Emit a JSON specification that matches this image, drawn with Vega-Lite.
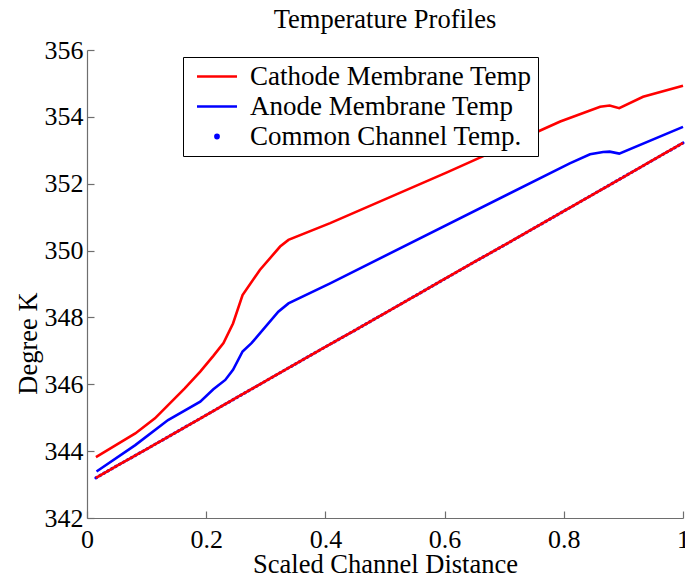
{
  "$schema": "https://vega.github.io/schema/vega-lite/v6.json",
  "width": 596,
  "height": 468,
  "autosize": {"type": "none"},
  "padding": {"left": 87, "top": 50, "right": 2, "bottom": 59},
  "background": "white",
  "title": {
    "text": "Temperature Profiles",
    "font": "Liberation Serif",
    "fontSize": 26.5,
    "fontWeight": "normal",
    "color": "black",
    "anchor": "middle",
    "offset": 4
  },
  "config": {
    "view": {"stroke": null},
    "axis": {
      "grid": false,
      "domainColor": "#6e6e6e",
      "domainWidth": 1.2,
      "tickColor": "#6e6e6e",
      "tickWidth": 1.2,
      "tickSize": -7,
      "labelFlush": false,
      "labelOverlap": false,
      "labelFont": "Liberation Serif",
      "labelFontSize": 26,
      "labelColor": "black",
      "titleFont": "Liberation Serif",
      "titleFontSize": 26.5,
      "titleFontWeight": "normal",
      "titleColor": "black"
    }
  },
  "data": {
    "values": [
      {"series": "Cathode Membrane Temp", "dist": 0.015, "temp": 343.82},
      {"series": "Cathode Membrane Temp", "dist": 0.081, "temp": 344.53},
      {"series": "Cathode Membrane Temp", "dist": 0.114, "temp": 344.98},
      {"series": "Cathode Membrane Temp", "dist": 0.164, "temp": 345.88},
      {"series": "Cathode Membrane Temp", "dist": 0.19, "temp": 346.38},
      {"series": "Cathode Membrane Temp", "dist": 0.212, "temp": 346.85},
      {"series": "Cathode Membrane Temp", "dist": 0.229, "temp": 347.23},
      {"series": "Cathode Membrane Temp", "dist": 0.245, "temp": 347.82},
      {"series": "Cathode Membrane Temp", "dist": 0.261, "temp": 348.67},
      {"series": "Cathode Membrane Temp", "dist": 0.29, "temp": 349.42},
      {"series": "Cathode Membrane Temp", "dist": 0.324, "temp": 350.12},
      {"series": "Cathode Membrane Temp", "dist": 0.338, "temp": 350.32},
      {"series": "Cathode Membrane Temp", "dist": 0.408, "temp": 350.82},
      {"series": "Cathode Membrane Temp", "dist": 0.604, "temp": 352.34},
      {"series": "Cathode Membrane Temp", "dist": 0.794, "temp": 353.86},
      {"series": "Cathode Membrane Temp", "dist": 0.861, "temp": 354.3},
      {"series": "Cathode Membrane Temp", "dist": 0.877, "temp": 354.34},
      {"series": "Cathode Membrane Temp", "dist": 0.893, "temp": 354.26},
      {"series": "Cathode Membrane Temp", "dist": 0.933, "temp": 354.6},
      {"series": "Cathode Membrane Temp", "dist": 1.0, "temp": 354.93},

      {"series": "Anode Membrane Temp", "dist": 0.016, "temp": 343.39},
      {"series": "Anode Membrane Temp", "dist": 0.081, "temp": 344.18},
      {"series": "Anode Membrane Temp", "dist": 0.136, "temp": 344.93},
      {"series": "Anode Membrane Temp", "dist": 0.19, "temp": 345.48},
      {"series": "Anode Membrane Temp", "dist": 0.212, "temp": 345.85},
      {"series": "Anode Membrane Temp", "dist": 0.232, "temp": 346.13},
      {"series": "Anode Membrane Temp", "dist": 0.245, "temp": 346.43},
      {"series": "Anode Membrane Temp", "dist": 0.261, "temp": 346.98},
      {"series": "Anode Membrane Temp", "dist": 0.276, "temp": 347.23},
      {"series": "Anode Membrane Temp", "dist": 0.321, "temp": 348.17},
      {"series": "Anode Membrane Temp", "dist": 0.338, "temp": 348.42},
      {"series": "Anode Membrane Temp", "dist": 0.408, "temp": 349.02},
      {"series": "Anode Membrane Temp", "dist": 0.81, "temp": 352.61},
      {"series": "Anode Membrane Temp", "dist": 0.844, "temp": 352.88},
      {"series": "Anode Membrane Temp", "dist": 0.866, "temp": 352.95},
      {"series": "Anode Membrane Temp", "dist": 0.877, "temp": 352.96},
      {"series": "Anode Membrane Temp", "dist": 0.893, "temp": 352.9},
      {"series": "Anode Membrane Temp", "dist": 1.0, "temp": 353.7},

      {"series": "Common Channel Temp.", "dist": 0.015, "temp": 343.2},
      {"series": "Common Channel Temp.", "dist": 0.05, "temp": 343.56},
      {"series": "Common Channel Temp.", "dist": 0.1, "temp": 344.06},
      {"series": "Common Channel Temp.", "dist": 0.15, "temp": 344.57},
      {"series": "Common Channel Temp.", "dist": 0.2, "temp": 345.08},
      {"series": "Common Channel Temp.", "dist": 0.25, "temp": 345.59},
      {"series": "Common Channel Temp.", "dist": 0.3, "temp": 346.1},
      {"series": "Common Channel Temp.", "dist": 0.35, "temp": 346.61},
      {"series": "Common Channel Temp.", "dist": 0.4, "temp": 347.12},
      {"series": "Common Channel Temp.", "dist": 0.45, "temp": 347.62},
      {"series": "Common Channel Temp.", "dist": 0.5, "temp": 348.13},
      {"series": "Common Channel Temp.", "dist": 0.55, "temp": 348.64},
      {"series": "Common Channel Temp.", "dist": 0.6, "temp": 349.15},
      {"series": "Common Channel Temp.", "dist": 0.65, "temp": 349.66},
      {"series": "Common Channel Temp.", "dist": 0.7, "temp": 350.16},
      {"series": "Common Channel Temp.", "dist": 0.75, "temp": 350.67},
      {"series": "Common Channel Temp.", "dist": 0.8, "temp": 351.18},
      {"series": "Common Channel Temp.", "dist": 0.85, "temp": 351.69},
      {"series": "Common Channel Temp.", "dist": 0.9, "temp": 352.2},
      {"series": "Common Channel Temp.", "dist": 0.95, "temp": 352.71},
      {"series": "Common Channel Temp.", "dist": 1.0, "temp": 353.22}
    ]
  },
  "encoding": {
    "x": {
      "field": "dist",
      "type": "quantitative",
      "scale": {"domain": [0, 1], "nice": false, "zero": false},
      "axis": {
        "title": "Scaled Channel Distance",
        "values": [0, 0.2, 0.4, 0.6, 0.8, 1],
        "labelExpr": "'' + datum.value",
        "labelPadding": 15,
        "titleY": 46,
        "titleBaseline": "middle"
      }
    },
    "y": {
      "field": "temp",
      "type": "quantitative",
      "scale": {"domain": [342, 356], "nice": false, "zero": false},
      "axis": {
        "title": "Degree K",
        "values": [342, 344, 346, 348, 350, 352, 354, 356],
        "labelPadding": 11,
        "titleX": -59,
        "titleY": 293,
        "titleBaseline": "middle",
        "titleAnchor": "middle"
      }
    }
  },
  "layer": [
    {
      "transform": [{"filter": "datum.series === 'Common Channel Temp.'"}],
      "mark": {"type": "line", "strokeWidth": 3, "strokeDash": [1, 3.5], "strokeCap": "round"},
      "encoding": {
        "color": {"field": "series", "type": "nominal"}
      }
    },
    {
      "transform": [{"filter": "datum.series === 'Common Channel Temp.'"}],
      "mark": {"type": "line", "strokeWidth": 2.6, "color": "#ff0000"},
      "encoding": {}
    },
    {
      "transform": [{"filter": "datum.series !== 'Common Channel Temp.'"}],
      "mark": {"type": "line", "strokeWidth": 2.6},
      "encoding": {
        "color": {
          "field": "series",
          "type": "nominal",
          "scale": {
            "domain": ["Cathode Membrane Temp", "Anode Membrane Temp", "Common Channel Temp."],
            "range": ["#ff0000", "#0000ff", "#0000ff"]
          },
          "legend": {
            "title": null,
            "orient": "none",
            "legendX": 96,
            "legendY": 7,
            "fillColor": "white",
            "strokeColor": "black",
            "padding": 6,
            "symbolType": "stroke",
            "symbolSize": 1600,
            "symbolStrokeWidth": 2.6,
            "labelFont": "Liberation Serif",
            "labelFontSize": 27,
            "labelColor": "black",
            "labelLimit": 0,
            "labelOffset": 34,
            "rowPadding": 2,
            "encode": {
              "symbols": {
                "update": {
                  "x": {"value": 28},
                  "shape": {"signal": "datum.value === 'Common Channel Temp.' ? 'circle' : 'M-2,0H2'"},
                  "size": {"signal": "datum.value === 'Common Channel Temp.' ? 10 : 400"},
                  "fill": {"signal": "datum.value === 'Common Channel Temp.' ? '#0000ff' : 'transparent'"}
                }
              }
            }
          }
        }
      }
    }
  ]
}
